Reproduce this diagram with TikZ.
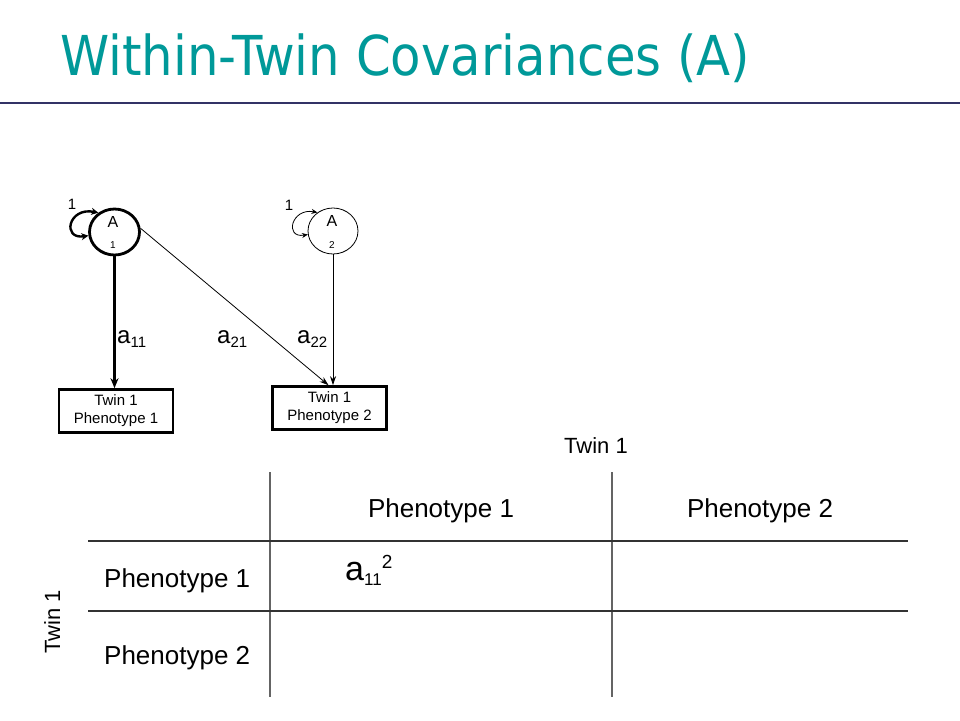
\documentclass[tikz,border=0pt]{standalone}
\usepackage{fontspec}
\setmainfont{Liberation Sans}
\newfontfamily\titlefont{DejaVu Sans}
\usetikzlibrary{arrows.meta,shapes.geometric}
\definecolor{titlecol}{RGB}{0,153,153}
\definecolor{rulecol}{RGB}{51,51,102}
\definecolor{gridcol}{RGB}{100,100,100}
\tikzset{
  latent/.style={ellipse, draw, minimum width=50pt, minimum height=46pt, inner sep=0pt},
  obsbox/.style={draw, line width=2.6pt, minimum width=114pt, minimum height=43pt, inner sep=0pt, align=center, font=\fontsize{15}{18}\selectfont},
  txt/.style={inner sep=0pt, anchor=base},
  thickarr/.style={line width=2.6pt, -{Stealth[length=10pt,width=8pt]}},
  thinarr/.style={line width=0.8pt, -{Stealth[length=9pt,width=6pt]}},
  gridline/.style={gridcol, line width=1.2pt},
  cell/.style={inner sep=0pt, anchor=base west, font=\fontsize{26}{30}\selectfont}
}
\begin{document}
\begin{tikzpicture}[x=1pt,y=-1pt]
\useasboundingbox (0,0) rectangle (960,720);
\fill[white] (0,0) rectangle (960,720);

% title and rule
\node[anchor=base west, inner sep=0pt, text=titlecol, font=\titlefont\fontsize{55}{60}\selectfont] (title) at (60,75) {\scalebox{0.905}[1]{Within-Twin Covariances (A)}};
\coordinate (rl) at (0,103);
\coordinate (rr) at (960,103);
\draw[rulecol, line width=2pt] (rl) -- (rr);

% latent variables
\node[latent, line width=2.8pt] (a1) at (114.5,232) {};
\node[latent, line width=0.8pt] (a2) at (333,231) {};
\node[txt, font=\fontsize{16}{16}\selectfont] (a1t) at (113,227) {A};
\node[txt, font=\fontsize{10}{10}\selectfont] (a1s) at (113,248) {1};
\node[txt, font=\fontsize{16}{16}\selectfont] (a2t) at (332,226) {A};
\node[txt, font=\fontsize{10}{10}\selectfont] (a2s) at (332,248) {2};

% self loops
\draw[line width=2.4pt, {Stealth[length=7pt,width=7pt]}-{Stealth[length=7pt,width=7pt]}]
  (a1.188) .. controls +(-27,4) and +(-30,-6) .. (a1.130);
\draw[line width=0.8pt, {Stealth[length=6pt,width=5pt]}-{Stealth[length=6pt,width=5pt]}]
  (a2.188) .. controls +(-24,4) and +(-26,-5) .. (a2.130);
\node[txt, font=\fontsize{15}{15}\selectfont] (l1) at (72,209) {1};
\node[txt, font=\fontsize{15}{15}\selectfont] (l2) at (289,210) {1};

% observed
\node[obsbox] (b1) at (116,411) {Twin 1\\Phenotype 1};
\node[obsbox] (b2) at (329.5,408) {Twin 1\\Phenotype 2};

% paths
\draw[thickarr] (a1.south) -- (a1.south |- b1.north);
\draw[thinarr] (a1.8) -- ([xshift=-1pt]b2.north);
\draw[thinarr] (a2.south) -- (a2.south |- b2.north);

% path labels
\node[txt, anchor=base west, font=\fontsize{24}{24}\selectfont] (la11) at (117,343) {a\raisebox{-4pt}{\fontsize{15}{15}\selectfont 11}};
\node[txt, anchor=base west, font=\fontsize{24}{24}\selectfont] (la21) at (217,343) {a\raisebox{-4pt}{\fontsize{15}{15}\selectfont 21}};
\node[txt, anchor=base west, font=\fontsize{24}{24}\selectfont] (la22) at (297,343) {a\raisebox{-4pt}{\fontsize{15}{15}\selectfont 22}};

% table
\node[txt, font=\fontsize{22}{22}\selectfont] (tw1) at (596,453) {Twin 1};
\node[txt, rotate=90, font=\fontsize{22}{22}\selectfont] (tw2) at (60,622) {Twin 1};

\coordinate (v1t) at (270,472); \coordinate (v1b) at (270,697);
\coordinate (v2t) at (612,472); \coordinate (v2b) at (612,697);
\coordinate (h1l) at (88,541); \coordinate (h1r) at (908,541);
\coordinate (h2l) at (88,611); \coordinate (h2r) at (908,611);
\draw[gridline] (v1t) -- (v1b);
\draw[gridline] (v2t) -- (v2b);
\draw[gridline, black!80] (h1l) -- (h1r);
\draw[gridline, black!80] (h2l) -- (h2r);

\node[cell, anchor=base] (c1) at (441,517) {Phenotype 1};
\node[cell, anchor=base] (c2) at (760,517) {Phenotype 2};
\node[cell] (r1) at (104,587) {Phenotype 1};
\node[cell] (r2) at (104,664) {Phenotype 2};
\node[cell, font=\fontsize{34}{34}\selectfont] (v11) at (345,580) {a\raisebox{-5pt}{\fontsize{17}{17}\selectfont 11}\raisebox{12pt}{\fontsize{19}{19}\selectfont 2}};
\end{tikzpicture}
\end{document}
